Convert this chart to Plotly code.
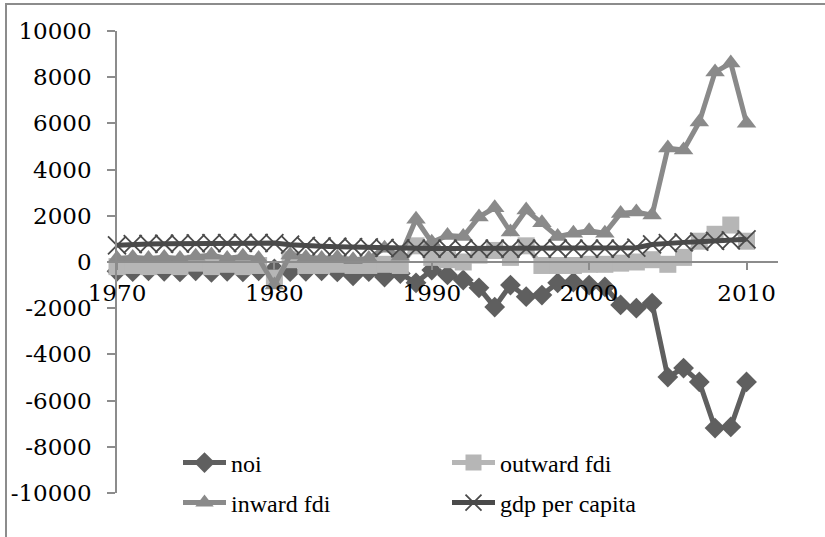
import plotly.graph_objects as go

years = [1970, 1971, 1972, 1973, 1974, 1975, 1976, 1977, 1978, 1979,
         1980, 1981, 1982, 1983, 1984, 1985, 1986, 1987, 1988, 1989,
         1990, 1991, 1992, 1993, 1994, 1995, 1996, 1997, 1998, 1999,
         2000, 2001, 2002, 2003, 2004, 2005, 2006, 2007, 2008, 2009, 2010]

noi = [-400, -420, -380, -400, -430, -380, -450, -400, -430, -380,
       -300, -420, -400, -380, -430, -600, -420, -650, -500, -900,
       -350, -560, -780, -1120, -1950, -1000, -1500, -1430, -900, -870,
       -1000, -1080, -1860, -2000, -1780, -4980, -4590, -5190, -7190, -7140, -5190]

outward_fdi = [-200, -150, -200, -150, -200, -50, -200, -100, -200, -150,
               -700, 100, -150, -150, -100, -150, -150, -100, -150, 700,
               200, 100, 0, 300, 500, 200, 700, -150, -150, -150,
               -100, -100, -50, 0, 100, -100, 200, 900, 1200, 1600, 900]

inward_fdi = [150, 200, 150, 200, 150, 250, 300, 150, 250, 150,
              -1000, 300, 200, 150, 200, 100, 150, 600, 250, 1850,
              850, 1150, 1100, 1950, 2350, 1300, 2250, 1700, 1100, 1250,
              1350, 1250, 2100, 2160, 2030, 4930, 4850, 6060, 8220, 8610, 6010]

gdp_per_capita = [720, 770, 780, 790, 800, 810, 820, 820, 830, 830,
                  820, 750, 700, 680, 660, 640, 630, 610, 590, 580,
                  580, 580, 580, 580, 580, 580, 580, 580, 580, 580,
                  580, 580, 580, 620, 760, 820, 850, 880, 910, 940, 980]

series_names = ["noi", "outward fdi", "inward fdi", "gdp per capita"]

x_range = [1970, 2012]
y_range = [-10000, 10000]
x_ticks = [1970, 1980, 1990, 2000, 2010]
y_ticks = [10000, 8000, 6000, 4000, 2000, 0, -2000, -4000, -6000, -8000, -10000]

tick_font = dict(family="DejaVu Serif", size=23, color="#000000")
legend_font = dict(family="Liberation Serif", size=24, color="#000000")

fig = go.Figure()

fig.add_trace(go.Scatter(
    x=years, y=noi, name=series_names[0], mode="lines+markers",
    line=dict(color="#5f5f5f", width=5),
    marker=dict(symbol="diamond", size=16, color="#5f5f5f"),
    cliponaxis=False, legend="legend"))

fig.add_trace(go.Scatter(
    x=years, y=outward_fdi, name=series_names[1], mode="lines+markers",
    line=dict(color="#b6b6b6", width=5),
    marker=dict(symbol="square", size=17, color="#b6b6b6"),
    cliponaxis=False, legend="legend"))

fig.add_trace(go.Scatter(
    x=years, y=inward_fdi, name=series_names[2], mode="lines+markers",
    line=dict(color="#8a8a8a", width=5),
    marker=dict(symbol="triangle-up", size=17, color="#8a8a8a"),
    cliponaxis=False, legend="legend2"))

fig.add_trace(go.Scatter(
    x=years, y=gdp_per_capita, name=series_names[3], mode="lines+markers",
    line=dict(color="#4a4a4a", width=5),
    marker=dict(symbol="x-thin", size=18, color="#4a4a4a",
                line=dict(color="#4a4a4a", width=1.8)),
    cliponaxis=False, legend="legend2"))

L, R, T, B = 117, 47, 31, 44
W, H = 825, 537
pw = W - L - R
ph = H - T - B

fig.update_layout(
    width=W, height=H,
    margin=dict(l=L, r=R, t=T, b=B, pad=0),
    paper_bgcolor="#ffffff", plot_bgcolor="#ffffff",
    showlegend=True,
    xaxis=dict(
        range=x_range, tickmode="array", tickvals=x_ticks,
        ticktext=[str(v) for v in x_ticks],
        showgrid=False, zeroline=False, showline=True,
        linecolor="#8c8c8c", linewidth=1.5,
        ticks="outside", ticklen=7, tickcolor="#8c8c8c", tickwidth=1.5,
        anchor="free", position=0.5, tickfont=tick_font,
        ticklabelstandoff=4),
    yaxis=dict(
        range=y_range, tickmode="array", tickvals=y_ticks,
        ticktext=[str(v) for v in y_ticks],
        showgrid=False, zeroline=False, showline=True,
        linecolor="#8c8c8c", linewidth=1.5,
        ticks="outside", ticklen=8, tickcolor="#8c8c8c", tickwidth=1.5,
        tickfont=tick_font, ticklabelstandoff=11),
    legend=dict(
        orientation="h", x=(178 - L) / pw, xanchor="left",
        y=(H - B - 463) / ph, yanchor="middle",
        entrywidth=211, entrywidthmode="pixels",
        font=legend_font, bgcolor="rgba(0,0,0,0)", itemwidth=43),
    legend2=dict(
        orientation="h", x=(178 - L) / pw, xanchor="left",
        y=(H - B - 503) / ph, yanchor="middle",
        entrywidth=211, entrywidthmode="pixels",
        font=legend_font, bgcolor="rgba(0,0,0,0)", itemwidth=43),
)

frame_js = (
    "document.body.style.margin='0px';"
    "document.body.style.overflow='hidden';"
    "var f=document.createElement('div');"
    "f.style.cssText='position:absolute;left:5px;top:3px;width:900px;height:700px;"
    "border-left:2px solid #8c8c8c;border-top:2px solid #8c8c8c;"
    "pointer-events:none;z-index:10;box-sizing:border-box;';"
    "document.body.appendChild(f);"
)

fig.write_html("out.html", config={"displayModeBar": False}, post_script=frame_js)
